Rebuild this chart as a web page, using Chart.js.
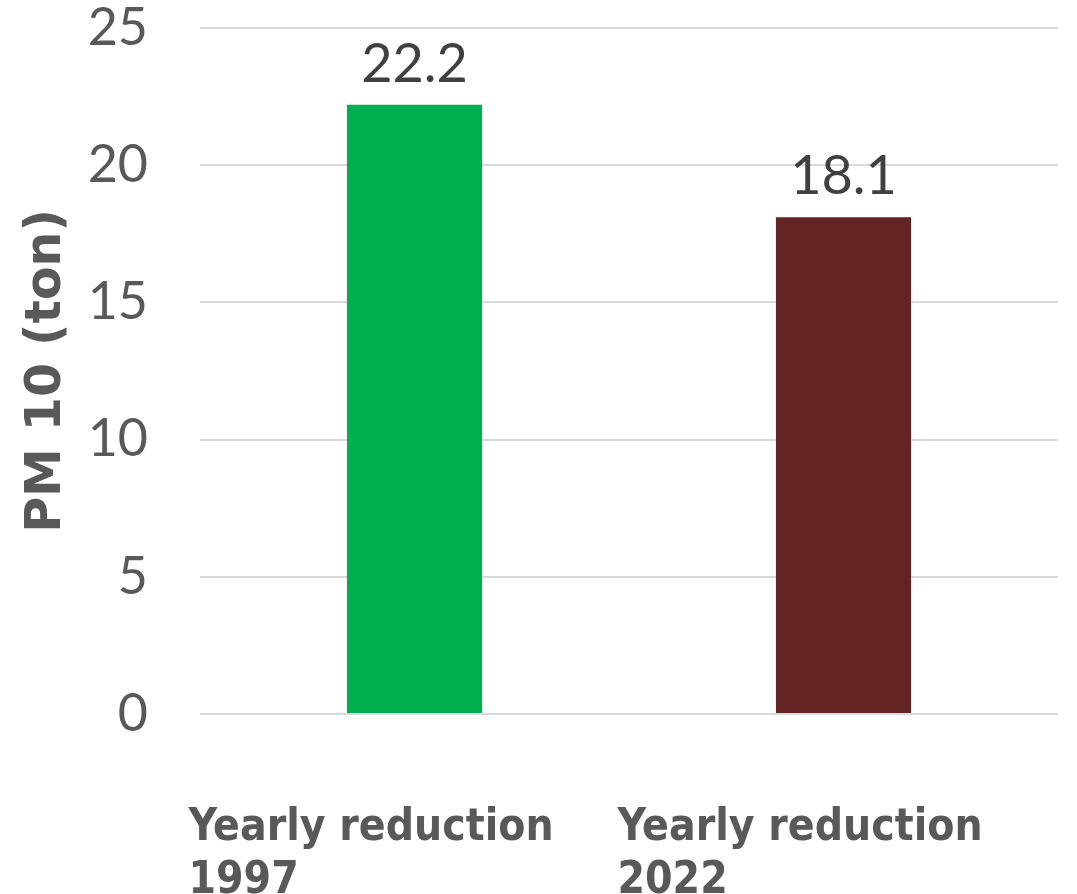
<!DOCTYPE html>
<html>
<head>
<meta charset="utf-8">
<script src="https://cdn.jsdelivr.net/npm/chart.js@4"></script>
<style>
  html, body { margin: 0; padding: 0; background: #fff; }
  #wrap { width: 1077px; height: 894px; }
</style>
</head>
<body>
<div id="wrap"><canvas id="pmChart"></canvas></div>
<script>
// categories on the x axis (two lines each)
const categories = [
     ['Yearly reduction', '1997'],
     ['Yearly reduction', '2022']
]

// PM 10 yearly reduction in tons
const pmValues = [22.2, 18.1]

const yTitle = 'PM 10 (ton)'

// prints the value above each bar
const valueLabels = {
     id: 'valueLabels',
     afterDatasetsDraw(chart) {
          const ctx = chart.ctx
          const meta = chart.getDatasetMeta(0)
          ctx.save()
          ctx.font = '54px Lato'
          ctx.fillStyle = '#404040'
          ctx.textAlign = 'center'
          ctx.textBaseline = 'alphabetic'
          meta.data.forEach((bar, i) => {
               ctx.fillText(pmValues[i].toFixed(1), bar.x, bar.y - 23)
          })
          ctx.restore()
     }
}

const ctx = document.getElementById('pmChart').getContext('2d')

new Chart(ctx, {
     type: 'bar',
     data: {
          labels: categories,
          datasets: [{
               data: pmValues,
               backgroundColor: ['#00B050', '#632523'],
               categoryPercentage: 1,
               barPercentage: 0.315
          }]
     },
     options: {
          responsive: true,
          maintainAspectRatio: false,
          animation: false,
          layout: {
               padding: { top: 28, right: 19, left: 0, bottom: 0 }
          },
          plugins: {
               legend: { display: false },
               tooltip: { enabled: false }
          },
          scales: {
               x: {
                    grid: { display: false, drawTicks: false },
                    border: { display: false },
                    ticks: {
                         color: '#595959',
                         font: { family: "'DejaVu Sans Condensed', 'DejaVu Sans'", size: 44, weight: 'bold', lineHeight: 1.2 },
                         align: 'start',
                         labelOffset: -226,
                         padding: 88,
                         maxRotation: 0,
                         autoSkip: false
                    },
                    afterFit: (scale) => {
                         scale.height = 180
                         scale.paddingLeft = 0
                         scale.paddingRight = 0
                    }
               },
               y: {
                    min: 0,
                    max: 25,
                    ticks: {
                         stepSize: 5,
                         color: '#595959',
                         font: { family: 'Lato', size: 52, lineHeight: 1 },
                         padding: 52
                    },
                    grid: { color: '#d9d9d9', lineWidth: 2, drawTicks: false },
                    border: { display: false },
                    title: {
                         display: true,
                         text: yTitle,
                         color: '#595959',
                         font: { family: 'DejaVu Sans', size: 49, weight: 'bold', lineHeight: 1.2 },
                         padding: { top: 18, bottom: 0 }
                    },
                    afterFit: (scale) => {
                         scale.width = 200
                         scale.paddingTop = 0
                         scale.paddingBottom = 0
                    }
               }
          }
     },
     plugins: [valueLabels]
})
</script>
</body>
</html>
